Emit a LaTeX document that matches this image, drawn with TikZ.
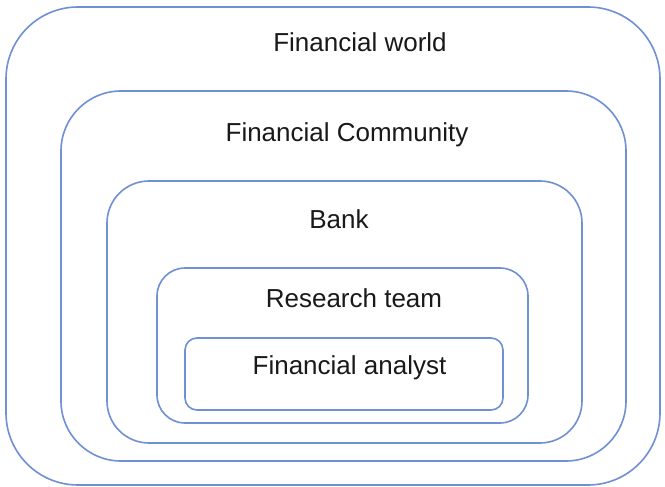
\documentclass[tikz,border=0pt]{standalone}
\usepackage{fontspec}
\setmainfont{Liberation Sans}
\definecolor{boxblue}{RGB}{112,144,212}
\tikzset{
  layer/.style={draw=boxblue, line width=1.6pt},
  lbl/.style={anchor=base, inner sep=0pt, font=\fontsize{26}{30}\selectfont, text=black!90}
}
\begin{document}
\begin{tikzpicture}[x=1pt,y=-1pt]
\useasboundingbox[fill=white] (0,0) rectangle (665,487);
\draw[layer, rounded corners=72pt] (6,7) rectangle (660,485);
\draw[layer, rounded corners=60pt] (61,91) rectangle (626,461);
\draw[layer, rounded corners=42pt] (107,181) rectangle (582,443);
\draw[layer, rounded corners=28pt] (157,268) rectangle (528,423);
\draw[layer, rounded corners=12pt] (185,338) rectangle (503,410);
\node[lbl] (world) at (360,52) {Financial world};
\node[lbl] (community) at (347,142) {Financial Community};
\node[lbl] (bank) at (339,228) {Bank};
\node[lbl] (research) at (354,307) {Research team};
\node[lbl] (analyst) at (349.5,374) {Financial analyst};
\end{tikzpicture}
\end{document}
